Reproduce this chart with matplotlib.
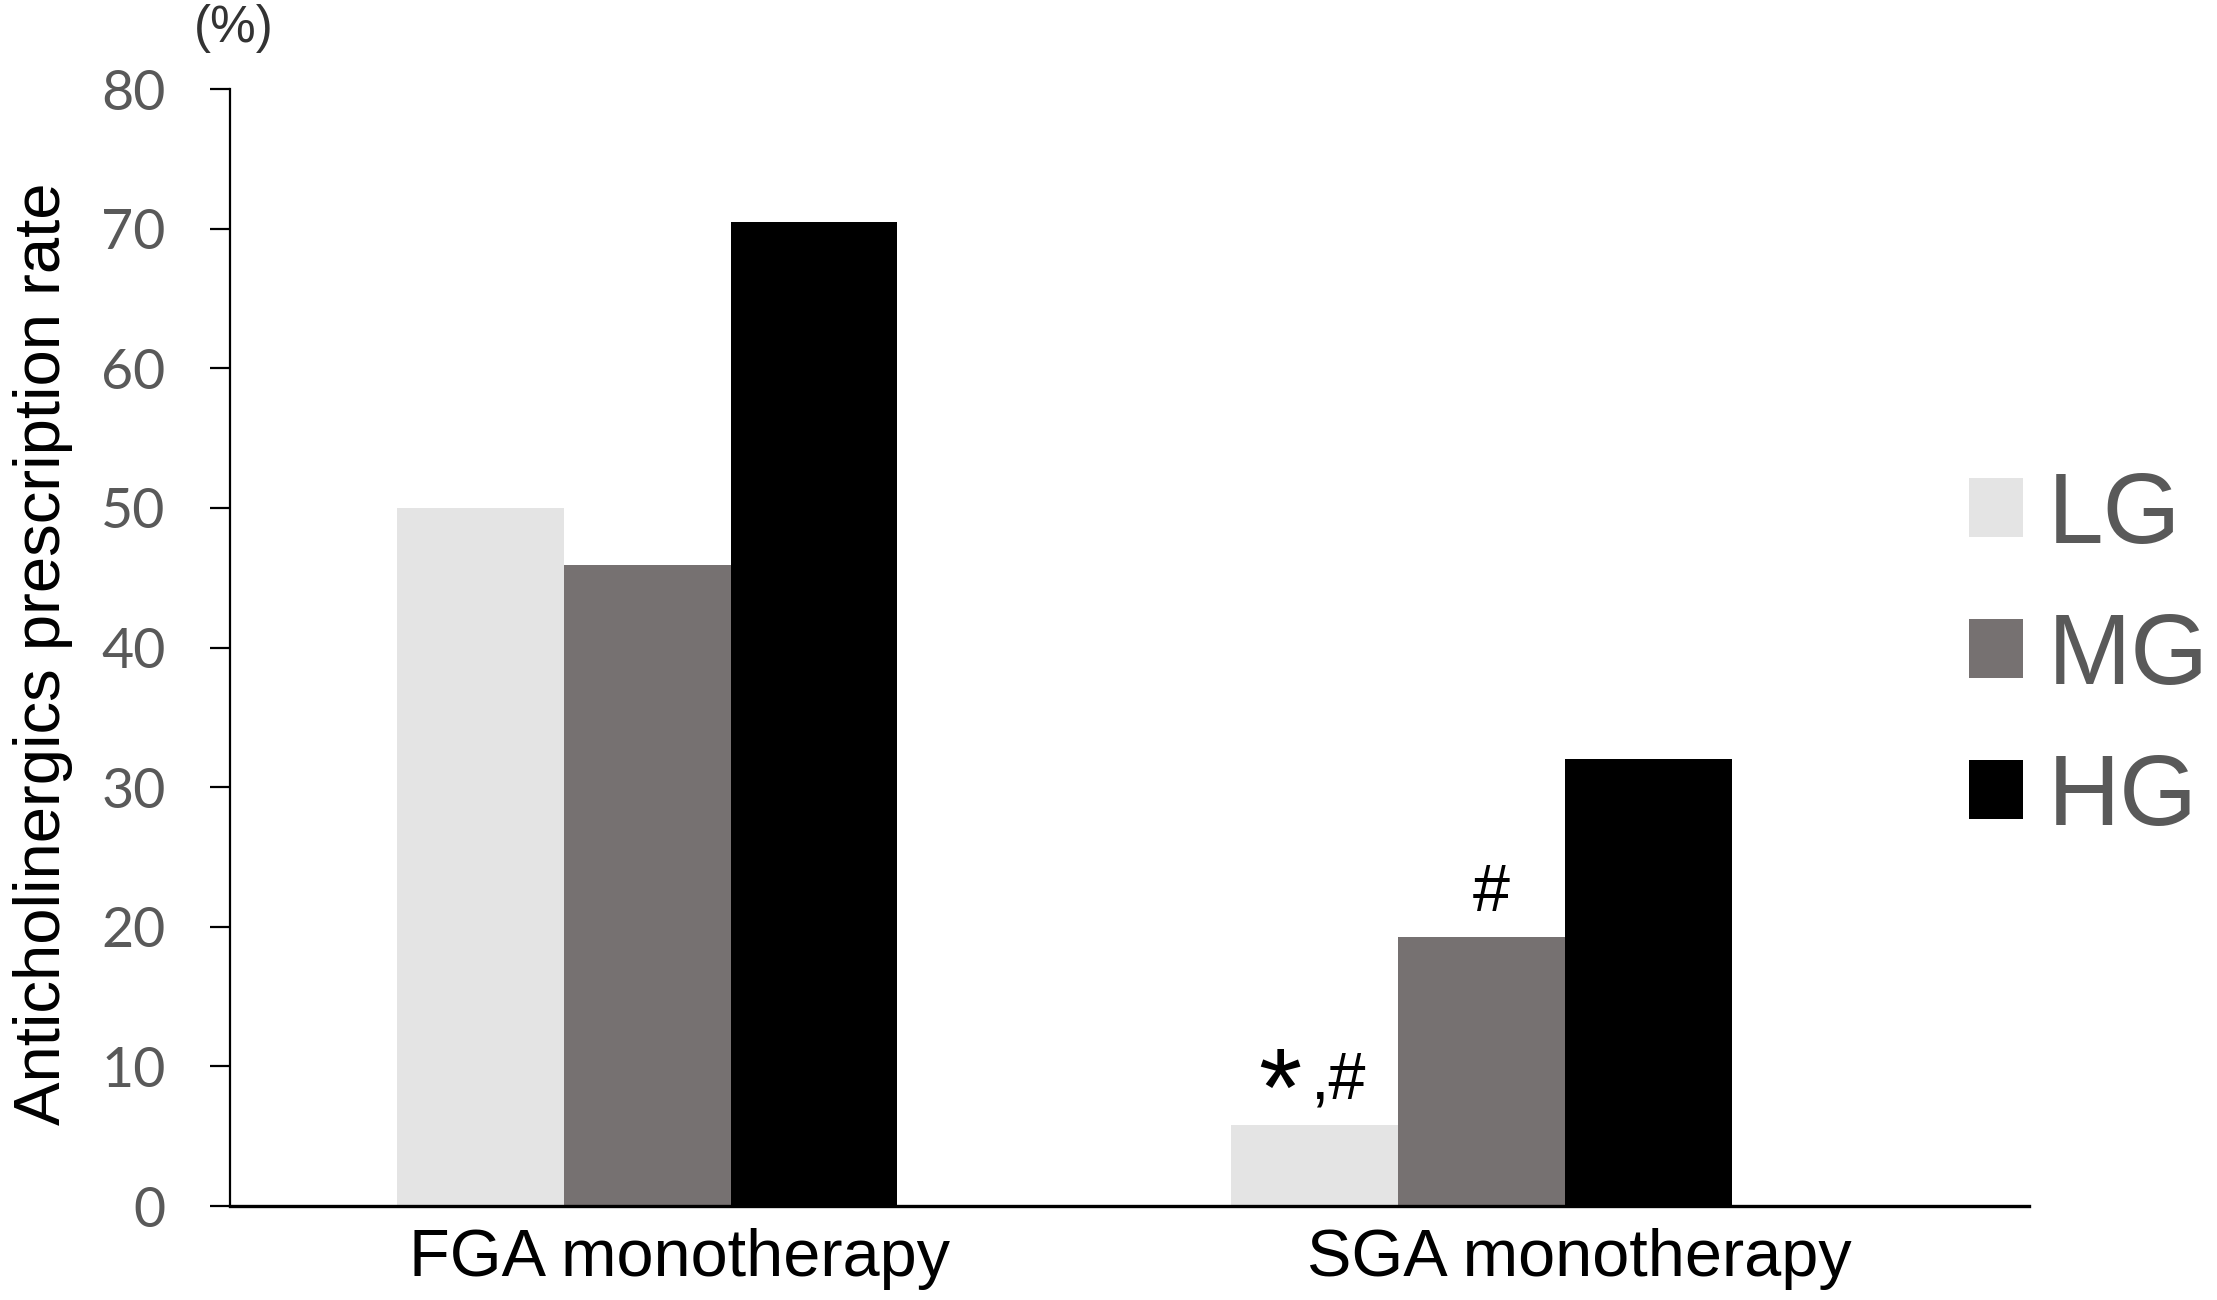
import matplotlib
matplotlib.use("Agg")
import matplotlib.pyplot as plt
import numpy as np

# data
categories = ["FGA monotherapy", "SGA monotherapy"]
groups = ["LG", "MG", "HG"]
lg_vals = [50.0, 5.8]
mg_vals = [45.9, 19.3]
hg_vals = [70.5, 32.0]
marks_lg = ["", "*,#"]
marks_mg = ["", "#"]

colors = ["#e4e4e4", "#767171", "#000000"]
tick_grey = "#595959"

plt.rcParams["font.family"] = ["Liberation Sans", "DejaVu Sans"]

fig = plt.figure(figsize=(22.17, 13.0), dpi=100)
ax = fig.add_axes([0.1037, 0.0723, 0.8115, 0.8592])

x = np.arange(len(categories))
w = 0.2
series = [lg_vals, mg_vals, hg_vals]
for i, (vals, name) in enumerate(zip(series, groups)):
    ax.bar(x + (i - 1) * w, vals, width=w, color=colors[i], label=name,
           edgecolor="none", zorder=2)

# significance marks above LG and MG bars
for xi, v, m in zip(x, lg_vals, marks_lg):
    if m:
        ax.text(xi - w - 0.042, v + 2.0, m[0], ha="center", va="center",
                fontsize=80, color="black")
        ax.text(xi - w - 0.005, v + 1.9, m[1:], ha="left", va="baseline",
                fontsize=48, color="black")
for xi, v, m in zip(x, mg_vals, marks_mg):
    if m:
        ax.text(xi + 0.012, v + 1.8, m, ha="center", va="baseline",
                fontsize=48, color="black")

xlim = (-0.5, 1.656)
ax.set_xlim(*xlim)
ax.set_ylim(0, 80)
ax.set_yticks(range(0, 81, 10))
ax.tick_params(axis="y", direction="out", length=14.4, width=1.6,
               labelsize=40, labelcolor=tick_grey, pad=32)
for lab in ax.get_yticklabels():
    lab.set_fontfamily("Lato")

# category labels sit at 1/4 and 3/4 of the axis, Excel style
tick_pos = [xlim[0] + f * (xlim[1] - xlim[0]) for f in (0.25, 0.75)]
ax.set_xticks(tick_pos)
ax.set_xticklabels(categories, fontsize=48)
ax.tick_params(axis="x", length=0, pad=16)

ax.spines["top"].set_visible(False)
ax.spines["right"].set_visible(False)
ax.spines["left"].set_linewidth(1.6)
ax.spines["bottom"].set_linewidth(2.4)

ax.set_ylabel("Anticholinergics prescription rate", fontsize=47)
ax.yaxis.set_label_coords(-0.087, 0.494)

fig.text(0.1055, 0.978, "(%)", ha="center", va="center", fontsize=37,
         color="#333333")

leg = ax.legend(loc="center left", bbox_to_anchor=(0.888, 0.494),
                bbox_transform=fig.transFigure, frameon=False, fontsize=72,
                handlelength=0.54, handleheight=0.54, handletextpad=0.25,
                labelspacing=0.47, borderpad=0, borderaxespad=0)
for t in leg.get_texts():
    t.set_color(tick_grey)

fig.savefig("out.png", dpi=100)
